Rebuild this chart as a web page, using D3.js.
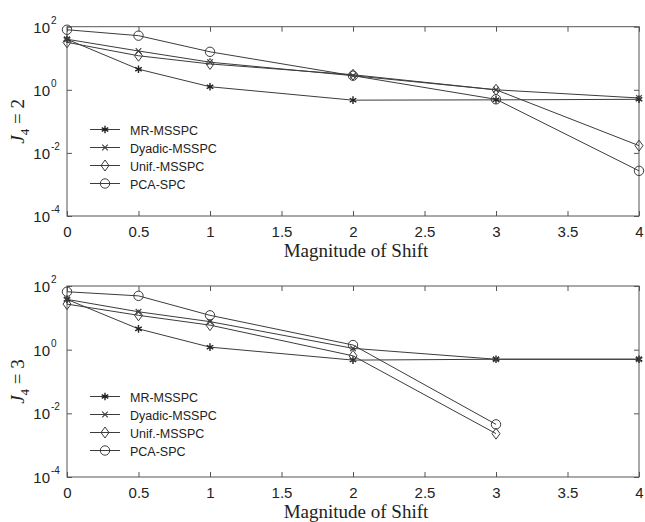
<!DOCTYPE html>
<html>
<head>
<meta charset="utf-8">
<script src="https://cdn.jsdelivr.net/npm/d3@7"></script>
<style>
  html, body { margin: 0; padding: 0; background: #fff; }
  svg { display: block; }
</style>
</head>
<body>
<svg id="chart" width="645" height="522"></svg>
<script>
// Shift magnitudes on the horizontal axis
const shift = [0, 0.5, 1, 2, 3, 4];
const xTicks = [0, 0.5, 1, 1.5, 2, 2.5, 3, 3.5, 4];
const yTicks = [1e-4, 1e-2, 1e0, 1e2];
const yExponents = ["-4", "-2", "0", "2"];

const seriesNames = ["MR-MSSPC", "Dyadic-MSSPC", "Unif.-MSSPC", "PCA-SPC"];

// Panel J4 = 2
const mrJ2     = [40, 4.5, 1.25, 0.47, 0.48, 0.5];
const dyadicJ2 = [40, 17, 7.5, 2.8, 1.0, 0.55];
const unifJ2   = [32, 12, 6.6, 3.0, 1.0, 0.017];
const pcaJ2    = [80, 52, 16, 2.8, 0.5, 0.0027];

// Panel J4 = 3
const mrJ3     = [38, 4.5, 1.2, 0.47, 0.5, 0.5];
const dyadicJ3 = [38, 15.5, 7.6, 1.1, 0.5, 0.5];
const unifJ3   = [27, 12, 5.9, 0.64, 0.0023];
const pcaJ3    = [66, 49, 12, 1.4, 0.0045];

const panels = [
  { level: "2", top: 26.7, bottom: 216, series: [mrJ2, dyadicJ2, unifJ2, pcaJ2], legendTop: 129.5 },
  { level: "3", top: 286, bottom: 477, series: [mrJ3, dyadicJ3, unifJ3, pcaJ3], legendTop: 396.5 }
];

const left = 67, right = 639;
const lineColor = "#3c3c3c";
const sans = "'Liberation Sans', Arial, sans-serif";
const serif = "'Liberation Serif', 'Times New Roman', serif";
const svg = d3.select("#chart");

const x = d3.scaleLinear().domain([0, 4]).range([left, right]);

// Marker drawing per series
function drawMarker(g, kind, cx, cy) {
  const m = g.append("g").attr("transform", `translate(${cx},${cy})`)
    .attr("fill", "none").attr("stroke", lineColor).attr("stroke-width", 1);
  if (kind === 0) {
    m.append("path").attr("d", d3.symbol(d3.symbolAsterisk, 40)())
      .attr("stroke", "#222").attr("stroke-width", 1.4);
  } else if (kind === 1) {
    m.append("path").attr("d", d3.symbol(d3.symbolTimes, 22)())
      .attr("stroke-width", 1.1);
  } else if (kind === 2) {
    m.append("path").attr("d", "M0,-5.5L4,0L0,5.5L-4,0Z");
  } else {
    m.append("circle").attr("r", 4.7);
  }
}

panels.forEach(p => {
  const y = d3.scaleLog().domain([1e-4, 1e2]).range([p.bottom, p.top]);
  const g = svg.append("g");

  // Frame
  g.append("rect")
    .attr("x", left).attr("y", p.top)
    .attr("width", right - left).attr("height", p.bottom - p.top)
    .attr("fill", "none").attr("stroke", "#555").attr("stroke-width", 1);

  // Axes with inward ticks on all four sides
  const axB = g.append("g").attr("transform", `translate(0,${p.bottom})`)
    .call(d3.axisBottom(x).tickValues(xTicks).tickSize(-5).tickPadding(10)
      .tickFormat(d3.format("")));
  const axT = g.append("g").attr("transform", `translate(0,${p.top})`)
    .call(d3.axisTop(x).tickValues(xTicks).tickSize(-5).tickFormat(""));
  const axL = g.append("g").attr("transform", `translate(${left},0)`)
    .call(d3.axisLeft(y).tickValues(yTicks).tickSize(-5).tickFormat(""));
  const axR = g.append("g").attr("transform", `translate(${right},0)`)
    .call(d3.axisRight(y).tickValues(yTicks).tickSize(-5).tickFormat(""));
  [axB, axT, axL, axR].forEach(a => {
    a.select(".domain").remove();
    a.selectAll(".tick line").attr("stroke", "#555");
  });
  axB.selectAll(".tick text")
    .attr("font-family", sans)
    .attr("font-size", 15).attr("fill", "#222");

  // Power-of-ten labels on the left
  yTicks.forEach((v, i) => {
    g.append("text")
      .attr("x", 50).attr("y", y(v) + 6)
      .attr("text-anchor", "end")
      .attr("font-family", sans)
      .attr("font-size", 15).attr("fill", "#222")
      .text("10");
    g.append("text")
      .attr("x", 51).attr("y", y(v) - 3)
      .attr("font-family", sans)
      .attr("font-size", 10).attr("fill", "#222")
      .text(yExponents[i]);
  });

  // Vertical axis title: J4 = level
  const yl = g.append("text")
    .attr("transform", `translate(24,${(p.top + p.bottom) / 2}) rotate(-90)`)
    .attr("text-anchor", "middle")
    .attr("font-family", serif)
    .attr("font-size", 19).attr("fill", "#222");
  yl.append("tspan").attr("font-style", "italic").text("J");
  yl.append("tspan").attr("font-size", 13).attr("dy", 5).text("4");
  yl.append("tspan").attr("dy", -5).text(" = " + p.level);

  // Horizontal axis title
  g.append("text")
    .attr("x", (left + right) / 2 + 3).attr("y", p.bottom + 41)
    .attr("text-anchor", "middle")
    .attr("font-family", serif)
    .attr("font-size", 19).attr("fill", "#222")
    .text("Magnitude of Shift");

  // Series lines and markers
  const line = d3.line().x((d, i) => x(shift[i])).y(d => y(d));
  p.series.forEach(vals => {
    g.append("path").datum(vals).attr("d", line)
      .attr("fill", "none").attr("stroke", lineColor).attr("stroke-width", 1);
  });
  p.series.forEach((vals, k) => {
    vals.forEach((v, i) => drawMarker(g, k, x(shift[i]), y(v)));
  });

  // Legend
  seriesNames.forEach((name, k) => {
    const ly = p.legendTop + k * 18;
    g.append("line").attr("x1", 90).attr("x2", 120).attr("y1", ly).attr("y2", ly)
      .attr("stroke", lineColor).attr("stroke-width", 1);
    drawMarker(g, k, 105, ly);
    g.append("text").attr("x", 130).attr("y", ly + 5)
      .attr("font-family", sans)
      .attr("font-size", 12.5).attr("fill", "#222")
      .text(name);
  });
});
</script>
</body>
</html>
